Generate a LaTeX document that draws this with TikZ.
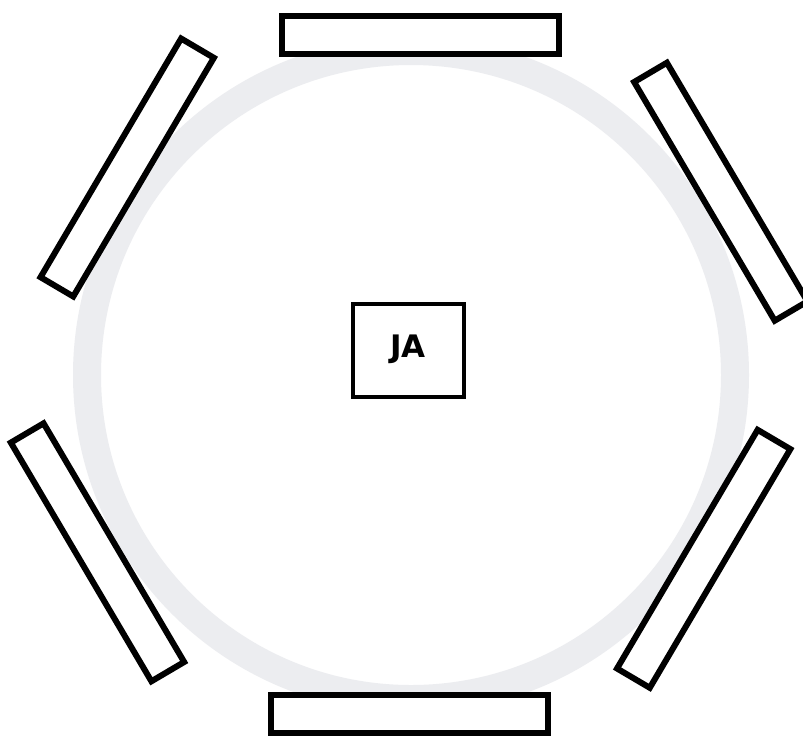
\documentclass[tikz,border=0pt]{standalone}
\usepackage{fontspec}
\newfontfamily\labelfont{DejaVu Sans}
\usetikzlibrary{positioning}
\definecolor{ringgray}{HTML}{ECEDF0}

\begin{document}
\begin{tikzpicture}[x=0.5pt,y=-0.5pt]
\tikzstyle{seat}=[draw=black, fill=white, line width=3pt, minimum width=138.5pt, minimum height=19pt, inner sep=0pt]
\tikzstyle{host}=[draw=black, fill=white, line width=2pt, minimum width=55.5pt, minimum height=46.5pt, inner sep=0pt, font=\labelfont\bfseries\fontsize{15.5}{18}\selectfont]
\clip (0,0) rectangle (803,735);
\fill[white] (0,0) rectangle (803,735);
\coordinate (table) at (411,375);
\draw[ringgray, line width=14pt] (table) circle (162pt); %table edge
% seats round the table
\node[seat] (seattop) at (420.5,34.5) {};
\node[seat] (seatbottom) at (409.5,713.5) {};
\node[seat, rotate=59.5] (seatupleft) at (127.2,167.5) {};
\node[seat, rotate=-59.5] (seatupright) at (720.8,191.7) {};
\node[seat, rotate=59.5] (seatlowright) at (703.7,558.8) {};
\node[seat, rotate=-59.5] (seatlowleft) at (97.5,552.3) {};
\node[host] (ja) at (408,350.5) {\raisebox{4pt}{JA}};
\end{tikzpicture}
\end{document}
